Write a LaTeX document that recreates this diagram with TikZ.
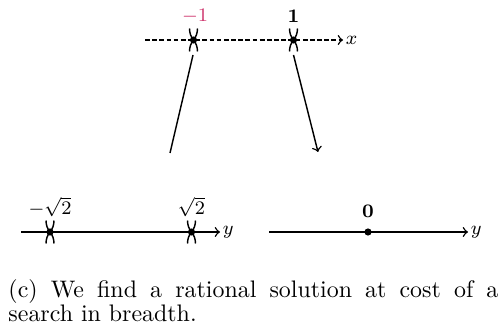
\documentclass[tikz,border=0pt]{standalone}
\definecolor{negpink}{RGB}{206,52,108}
\tikzset{
  axis/.style={semithick,->},
  conn/.style={semithick},
  lbl/.style={font=\fontsize{7.6}{9}\selectfont,inner sep=1pt},
  dotpt/.style={circle,fill=black,inner sep=0pt,minimum size=3pt},
  capline/.style={anchor=base west,inner sep=0pt,font=\fontsize{10}{12}\selectfont},
  cross/.pic={
    \draw[semithick] (0,0) .. controls (2.5,-3) and (4,-7) .. (4,-11.5);
    \draw[semithick] (0,0) .. controls (-2.5,-3) and (-4,-7) .. (-4,-11.5);
    \draw[semithick] (0,0) .. controls (2.5,3) and (4,7) .. (4,11.5);
    \draw[semithick] (0,0) .. controls (-2.5,3) and (-4,7) .. (-4,11.5);
  }
}
\begin{document}
\begin{tikzpicture}[x=0.4184pt,y=-0.4184pt]
\useasboundingbox (0,0) rectangle (501,331);
% top axis
\coordinate (xs) at (145,40);
\coordinate (xe) at (343,40);
\draw[axis,dash pattern=on 2pt off 1pt] (xs) -- (xe);
\node[lbl,anchor=west] (xl) at (xe) {$x$};
\pic at (193.5,40) {cross};
\pic at (293.5,40) {cross};
\node[dotpt] (pm1) at (193.5,40) {};
\node[dotpt] (pp1) at (293.5,40) {};
\node[lbl,text=negpink] (lm1) at (195,16) {$-1$};
\node[lbl] (lp1) at (293.5,16) {$\mathbf{1}$};
% connectors
\coordinate (c1s) at (193,55);
\coordinate (c1e) at (170,153);
\coordinate (c2s) at (293.5,55);
\coordinate (c2e) at (318,152);
\draw[conn] (c1s) -- (c1e);
\draw[conn,->] (c2s) -- (c2e);
% bottom left axis
\coordinate (ys1) at (21,232);
\coordinate (ye1) at (220,232);
\draw[axis] (ys1) -- (ye1);
\node[lbl,anchor=west] (yl1) at (ye1) {$y$};
\pic at (50,232) {cross};
\pic at (191.5,232) {cross};
\node[dotpt] (pm2) at (50,232) {};
\node[dotpt] (pp2) at (191.5,232) {};
\node[lbl] (lm2) at (50,207) {$-\sqrt{2}$};
\node[lbl] (lp2) at (191.5,207) {$\sqrt{2}$};
% bottom right axis
\coordinate (ys2) at (269,232);
\coordinate (ye2) at (468,232);
\draw[axis] (ys2) -- (ye2);
\node[lbl,anchor=west] (yl2) at (ye2) {$y$};
\node[dotpt] (p0) at (368,232) {};
\node[lbl] (l0) at (368,211) {$\mathbf{0}$};
% caption
\node[capline] (cap1) at (8,297) {\makebox[205pt][s]{(c) We find a rational solution at cost of a}};
\node[capline] (cap2) at (8,321) {search in breadth.};
\end{tikzpicture}
\end{document}
